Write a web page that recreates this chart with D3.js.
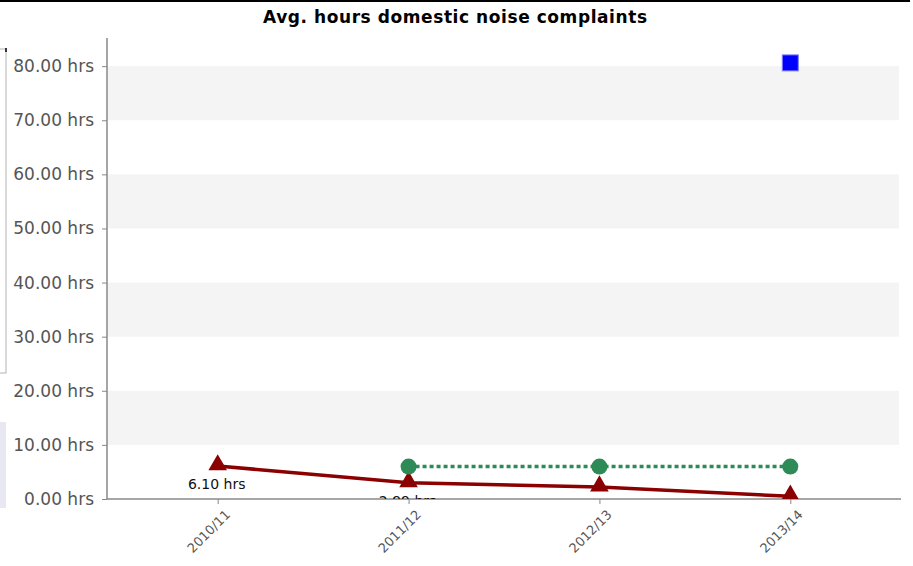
<!DOCTYPE html>
<html>
<head>
<meta charset="utf-8">
<script src="https://cdn.jsdelivr.net/npm/d3@7"></script>
<style>
  body { margin: 0; background: #ffffff; }
  svg { display: block; }
</style>
</head>
<body>
<div id="chartContainer"></div>
<script>
const w = 913;
const h = 566;

// Data
const seasons = ["2010/11", "2011/12", "2012/13", "2013/14"];
const redSeason = ["2010/11", "2011/12", "2012/13", "2013/14"];
const redHours = [6.10, 2.99, 2.20, 0.50];
const greenSeason = ["2011/12", "2012/13", "2013/14"];
const greenHours = [6.0, 6.0, 6.0];
const blueSeason = ["2013/14"];
const blueHours = [80.6];
const yTicks = [0, 10, 20, 30, 40, 50, 60, 70, 80];

const margin = {top: 38, right: 12, bottom: 67, left: 107};
const plotW = w - margin.left - margin.right;
const plotH = h - margin.top - margin.bottom;

let svg = d3.select("div#chartContainer").append("svg")
    .attr("width", w)
    .attr("height", h)
    .style("background-color", "#ffffff");

let x = d3.scalePoint().domain(seasons).range([0, plotW]).padding(0.58);
let y = d3.scaleLinear().domain([0, 85.2]).range([plotH, 0]);

// bits of other panels cut off at the left edge
svg.append("line").attr("x1", 0).attr("x2", 910).attr("y1", 1).attr("y2", 1)
    .style("stroke", "#000").style("stroke-width", 2);
svg.append("rect").attr("x", -4).attr("y", 49).attr("width", 10).attr("height", 324)
    .style("fill", "#fff").style("stroke", "#b4b4b4");
svg.append("line").attr("x1", 6).attr("x2", 6).attr("y1", 48).attr("y2", 52)
    .style("stroke", "#000").style("stroke-width", 1.5);
svg.append("rect").attr("x", 0).attr("y", 422).attr("width", 6).attr("height", 86)
    .style("fill", "#e8e8f2");

svg.append("text")
    .attr("x", 455).attr("y", 23)
    .attr("text-anchor", "middle")
    .style("font-family", "DejaVu Sans, Verdana, sans-serif")
    .style("font-weight", "bold")
    .style("font-size", "17px")
    .attr("textLength", 384)
    .text("Avg. hours domestic noise complaints");

let g = svg.append("g").attr("transform", `translate(${margin.left},${margin.top})`);

g.append("clipPath").attr("id", "plotClip")
    .append("rect").attr("x", 0).attr("y", 0).attr("width", plotW).attr("height", plotH);

// alternating bands
const bandPairs = [[70, 80], [50, 60], [30, 40], [10, 20]];
g.selectAll("rect.band")
    .data(bandPairs)
    .join("rect")
    .attr("class", "band")
    .attr("x", 0)
    .attr("width", plotW - 2)
    .attr("y", d => y(d[1]))
    .attr("height", d => y(d[0]) - y(d[1]))
    .style("fill", "#f4f4f4");

// axes
let yAxis = d3.axisLeft(y).tickValues(yTicks).tickSize(5).tickPadding(8)
    .tickFormat(d => d3.format(".2f")(d) + " hrs");
let yg = g.append("g").call(yAxis);
yg.select(".domain").attr("d", `M0,0V${plotH}`).style("stroke", "#888").style("stroke-width", 1.5);
yg.selectAll(".tick line").style("stroke", "#888");
yg.selectAll("text").style("fill", "#555").style("font-size", "17px")
    .style("font-family", "DejaVu Sans, Verdana, sans-serif");

let xAxis = d3.axisBottom(x).tickSize(5).tickPadding(4);
let xg = g.append("g").attr("transform", `translate(0,${plotH})`).call(xAxis);
xg.select(".domain").attr("d", `M0,0H${plotW}`).style("stroke", "#888").style("stroke-width", 1.5);
xg.selectAll(".tick line").style("stroke", "#888");
xg.selectAll("text")
    .style("fill", "#555").style("font-size", "13px")
    .style("font-family", "DejaVu Sans, Verdana, sans-serif")
    .attr("text-anchor", "end")
    .attr("dx", "-0.2em").attr("dy", "0.9em")
    .attr("transform", "rotate(-45)");

let plot = g.append("g").attr("clip-path", "url(#plotClip)");

// red series
const red = redSeason.map((s, i) => ({s: s, v: redHours[i]}));
let line = d3.line().x(d => x(d.s)).y(d => y(d.v));
plot.append("path").datum(red).attr("d", line)
    .style("fill", "none").style("stroke", "#8b0000").style("stroke-width", 3.5);
plot.selectAll("path.tri")
    .data(red)
    .join("path")
    .attr("class", "tri")
    .attr("d", d3.symbol().type(d3.symbolTriangle).size(150))
    .attr("transform", d => `translate(${x(d.s)},${y(d.v) - 1})`)
    .style("fill", "#8b0000");
plot.selectAll("text.lbl")
    .data(red)
    .join("text")
    .attr("class", "lbl")
    .attr("x", d => x(d.s) - 1)
    .attr("y", d => y(d.v) + 23)
    .attr("text-anchor", "middle")
    .style("font-family", "DejaVu Sans, Tahoma, sans-serif")
    .style("font-size", "14px")
    .style("fill", "#111")
    .text(d => d3.format(".2f")(d.v) + " hrs");

// green series
const green = greenSeason.map((s, i) => ({s: s, v: greenHours[i]}));
plot.append("path").datum(green).attr("d", line)
    .style("fill", "none").style("stroke", "#2e8b57").style("stroke-width", 3.5)
    .style("stroke-dasharray", "4,3");
plot.selectAll("circle.dot")
    .data(green)
    .join("circle")
    .attr("class", "dot")
    .attr("cx", d => x(d.s))
    .attr("cy", d => y(d.v))
    .attr("r", 8)
    .style("fill", "#2e8b57");

// blue series
const blue = blueSeason.map((s, i) => ({s: s, v: blueHours[i]}));
plot.selectAll("rect.sq")
    .data(blue)
    .join("rect")
    .attr("class", "sq")
    .attr("x", d => x(d.s) - 8)
    .attr("y", d => y(d.v) - 8)
    .attr("width", 16)
    .attr("height", 16)
    .style("fill", "#0000ff")
    .style("stroke", "#8080ff")
    .style("stroke-width", 1);
</script>
</body>
</html>
